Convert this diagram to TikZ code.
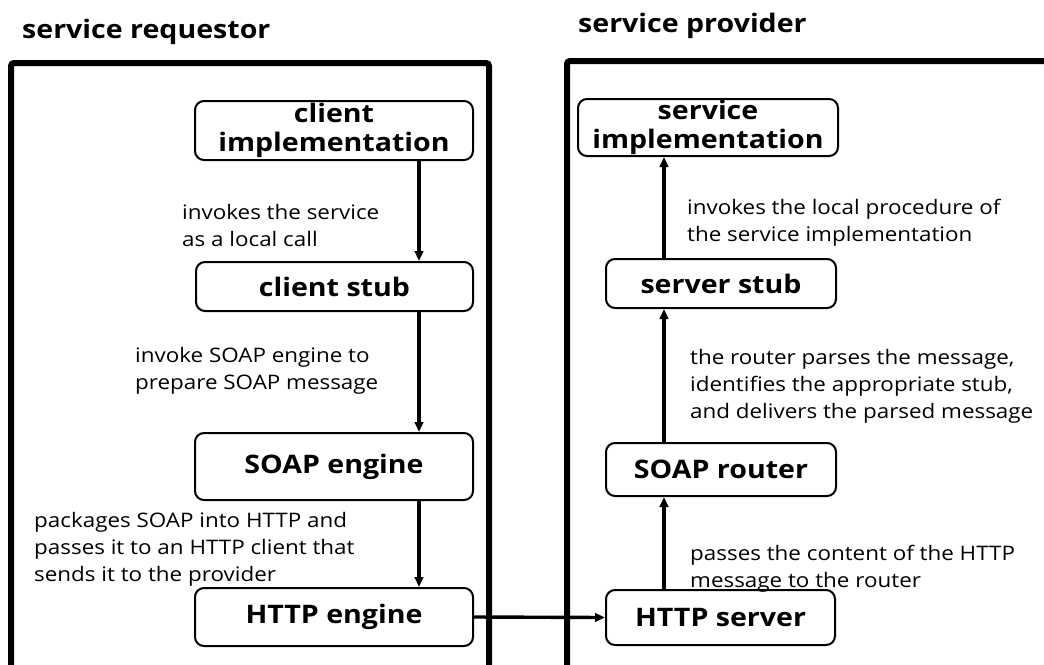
\documentclass[tikz,border=0pt]{standalone}
\usepackage{fontspec}
\setmainfont{Open Sans}[FakeStretch=1.12]
\usetikzlibrary{arrows.meta}
\begin{document}
\begin{tikzpicture}[x=1pt,y=-1pt,
  box/.style={draw, line width=2pt, rounded corners=9pt, align=center, inner sep=0pt,
    font=\fontsize{25.5}{29}\selectfont\bfseries},
  lbl/.style={align=left, anchor=base west, inner sep=0pt, font=\fontsize{20}{27}\selectfont},
  ttl/.style={anchor=base west, inner sep=0pt, font=\fontsize{25.5}{30}\selectfont\bfseries},
  arr/.style={line width=3.4pt, -{Triangle[length=10pt,width=8.5pt]}},
  frame/.style={line width=6pt, rounded corners=3pt}]
\useasboundingbox (0,0) rectangle (1044,664);

% titles
\node[ttl] (t1) at (22,38) {service requestor};
\node[ttl] (t2) at (578,32) {service provider};

% frames
\draw[frame] (11,680) -- (11,63) -- (489,63) -- (489,680);
\draw[frame] (567,680) -- (567,61) -- (1060,61);

% left column
\node[box, minimum width=278pt, minimum height=59pt] (ci) at (334,130.5) {client\\implementation};
\node[box, minimum width=277pt, minimum height=49pt] (cs) at (334.5,286.5) {client stub};
\node[box, minimum width=278pt, minimum height=67pt] (se) at (334,466.5) {SOAP engine};
\node[box, minimum width=278pt, minimum height=58pt] (he) at (334,617) {HTTP engine};

% right column
\node[box, minimum width=260pt, minimum height=57pt] (si) at (708,127.5) {service\\implementation};
\node[box, minimum width=230pt, minimum height=49pt] (ss) at (721,283.5) {server stub};
\node[box, minimum width=230pt, minimum height=53pt] (sr) at (721,469.5) {SOAP router};
\node[box, minimum width=229pt, minimum height=55pt] (hs) at (720.5,617.5) {HTTP server};

\coordinate (lx) at (419,0);
\coordinate (rx) at (664,0);

\draw[arr] (ci.south -| lx) -- (cs.north -| lx);
\draw[arr] (cs.south -| lx) -- (se.north -| lx);
\draw[arr] (se.south -| lx) -- (he.north -| lx);
\draw[arr] (he.east) -- (hs.west);
\draw[arr] (hs.north -| rx) -- (sr.south -| rx);
\draw[arr] (sr.north -| rx) -- (ss.south -| rx);
\draw[arr] (ss.north -| rx) -- (si.south -| rx);

% labels (anchor = baseline of last line)
\node[lbl] (l1) at (182,246) {invokes the service\\as a local call};
\node[lbl] (l2) at (135,389) {invoke SOAP engine to\\prepare SOAP message};
\node[lbl] (l3) at (34,581) {packages SOAP into HTTP and\\passes it to an HTTP client that\\sends it to the provider};
\node[lbl] (r1) at (687,241) {invokes the local procedure of\\the service implementation};
\node[lbl] (r2) at (690,418) {the router parses the message,\\identifies the appropriate stub,\\and delivers the parsed message};
\node[lbl] (r3) at (690,587) {passes the content of the HTTP\\message to the router};
\end{tikzpicture}
\end{document}
